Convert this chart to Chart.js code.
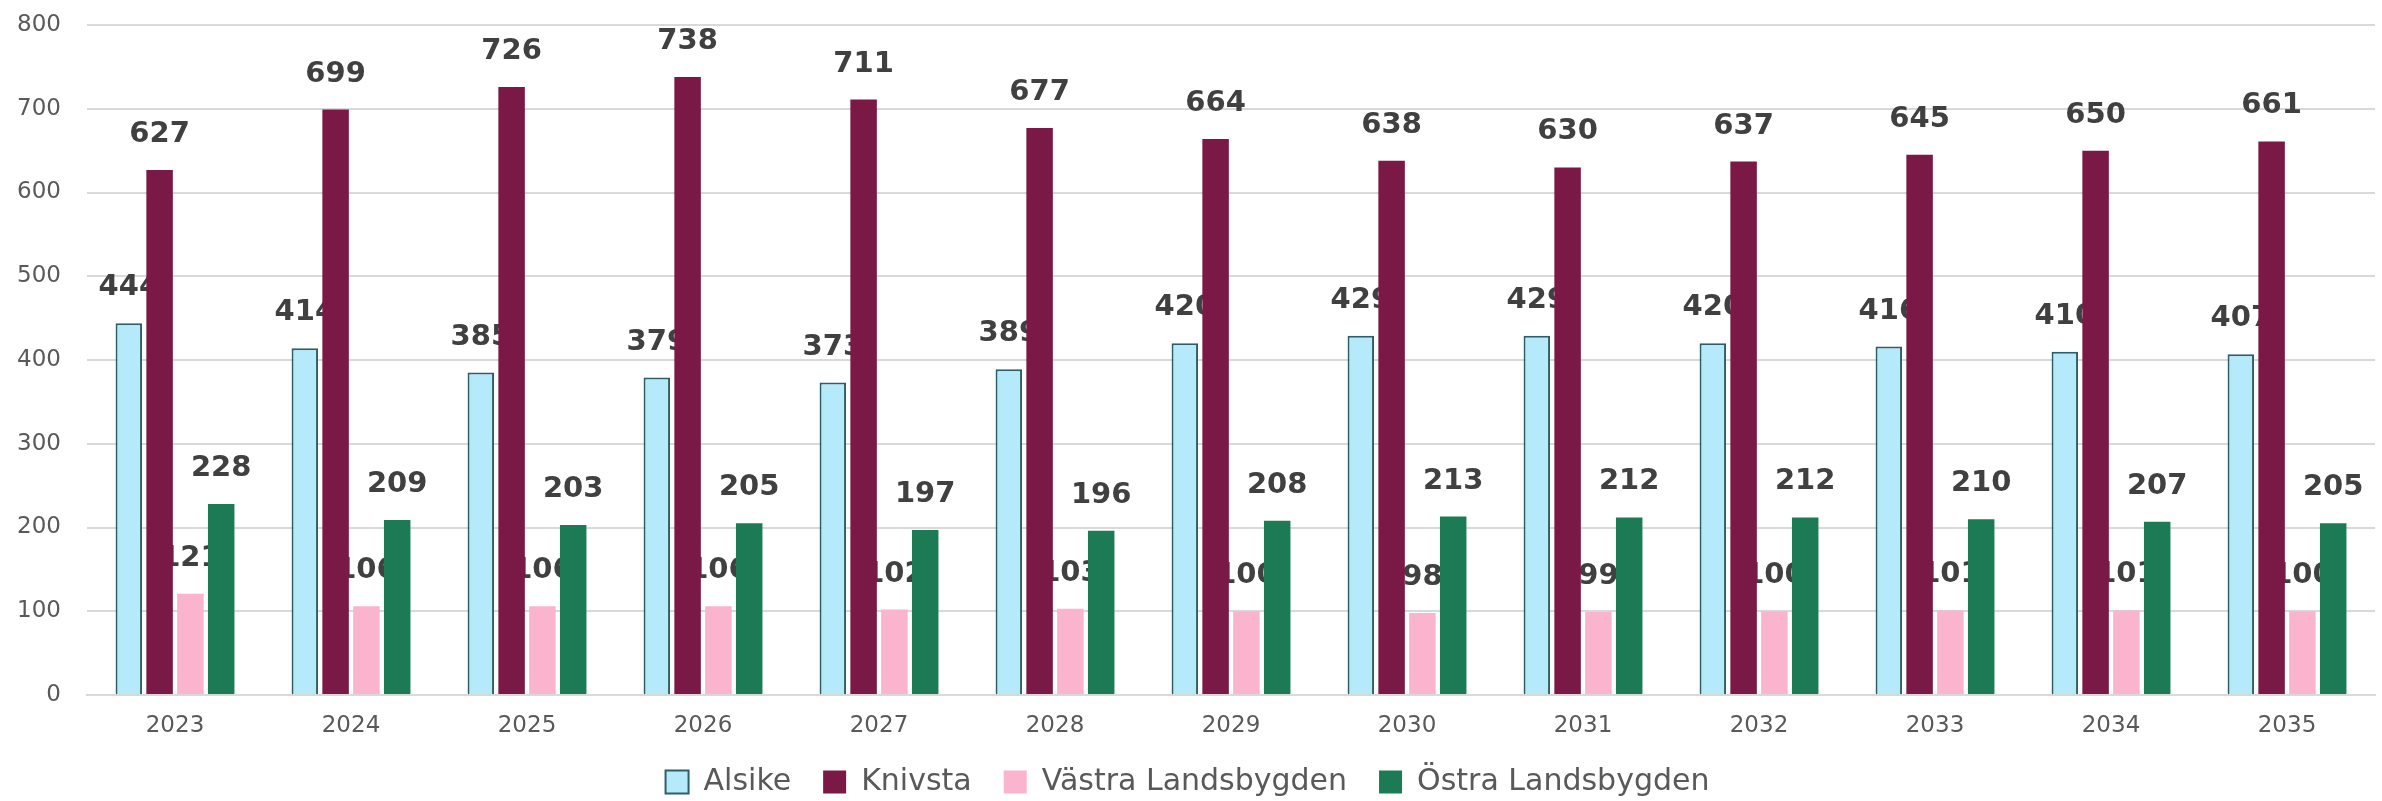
<!DOCTYPE html>
<html>
<head>
<meta charset="utf-8">
<script src="https://cdn.jsdelivr.net/npm/chart.js@4"></script>
<style>
  html, body { margin: 0; padding: 0; background: #fff; }
  #wrap { width: 2382px; height: 801px; }
</style>
</head>
<body>
<div id="wrap"><canvas id="chart"></canvas></div>
<script>
// Data
const years = ['2023', '2024', '2025', '2026', '2027', '2028', '2029', '2030', '2031', '2032', '2033', '2034', '2035'];
const alsike = [444, 414, 385, 379, 373, 389, 420, 429, 429, 420, 416, 410, 407];
const knivsta = [627, 699, 726, 738, 711, 677, 664, 638, 630, 637, 645, 650, 661];
const vastra = [121, 106, 106, 106, 102, 103, 100, 98, 99, 100, 101, 101, 100];
const ostra = [228, 209, 203, 205, 197, 196, 208, 213, 212, 212, 210, 207, 205];
const yTicks = [0, 100, 200, 300, 400, 500, 600, 700, 800];

const tickFont = { family: 'DejaVu Sans', size: 23 };

// Value labels drawn before the bars so neighbouring bars overlap them like in the original
const valueLabels = {
    id: 'valueLabels',
    beforeDatasetsDraw(chart) {
        const ctx = chart.ctx;
        ctx.save();
        ctx.font = 'bold 29px "DejaVu Sans"';
        ctx.fillStyle = '#404040';
        ctx.textAlign = 'center';
        ctx.textBaseline = 'alphabetic';
        chart.data.datasets.forEach((ds, i) => {
            const meta = chart.getDatasetMeta(i);
            meta.data.forEach((bar, j) => {
                ctx.fillText(ds.data[j], bar.x, bar.y - 28);
            });
        });
        ctx.restore();
    }
};

new Chart(document.getElementById('chart'), {
    type: 'bar',
    data: {
        labels: years,
        datasets: [{
            label: 'Alsike',
            data: alsike,
            backgroundColor: '#b5eafb',
            borderColor: '#2f5d68',
            borderWidth: 2
        }, {
            label: 'Knivsta',
            data: knivsta,
            backgroundColor: '#7a1846',
            borderWidth: 0
        }, {
            label: 'Västra Landsbygden',
            data: vastra,
            backgroundColor: '#fab4ce',
            borderWidth: 0
        }, {
            label: 'Östra Landsbygden',
            data: ostra,
            backgroundColor: '#1c7a55',
            borderWidth: 0
        }]
    },
    options: {
        responsive: true,
        maintainAspectRatio: false,
        animation: false,
        categoryPercentage: 0.7,
        barPercentage: 0.86,
        layout: {
            padding: { top: 0, right: 7, left: 0, bottom: -6 }
        },
        plugins: {
            legend: {
                position: 'bottom',
                labels: {
                    font: { family: 'DejaVu Sans', size: 30 },
                    color: '#595959',
                    boxWidth: 23,
                    boxHeight: 23,
                    padding: 32
                }
            },
            tooltip: { enabled: false }
        },
        scales: {
            x: {
                grid: { display: false, drawTicks: false },
                border: { color: '#d9d9d9', width: 2 },
                ticks: { font: tickFont, color: '#595959', padding: 17 },
                afterFit: function(scale) {
                    scale.height = 40;
                }
            },
            y: {
                min: 0,
                max: 800,
                afterBuildTicks: function(scale) {
                    scale.ticks = yTicks.map(v => ({ value: v }));
                },
                grid: { color: '#d9d9d9', lineWidth: 2, drawTicks: false },
                border: { display: false },
                ticks: { font: tickFont, color: '#595959', padding: 26 },
                afterFit: function(scale) {
                    scale.width = 87;
                    scale.paddingTop = 25;
                }
            }
        }
    },
    plugins: [valueLabels]
});
</script>
</body>
</html>
